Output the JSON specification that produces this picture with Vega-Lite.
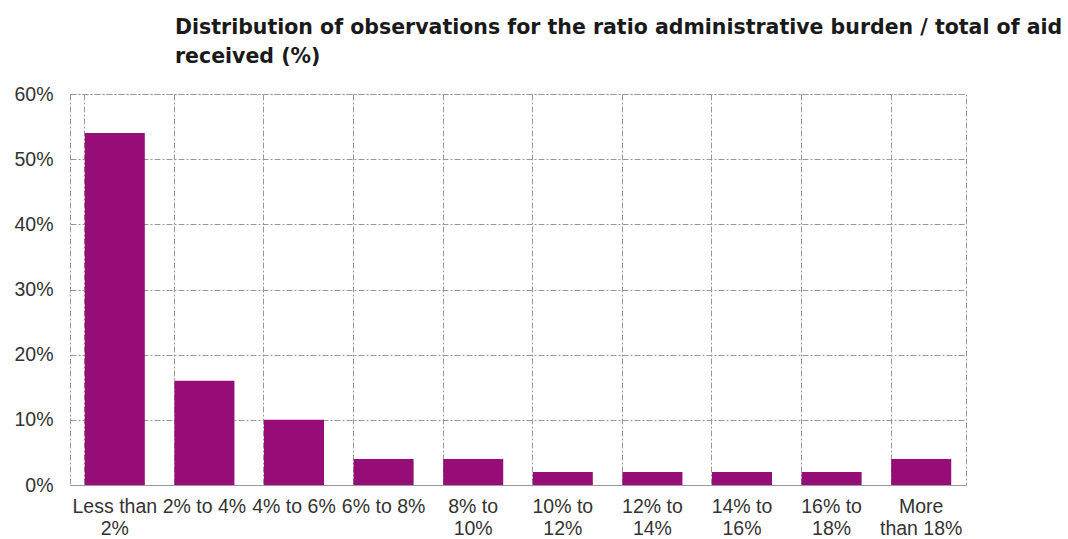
{
  "$schema": "https://vega.github.io/schema/vega-lite/v6.json",
  "width": 896,
  "height": 391,
  "autosize": {"type": "none"},
  "padding": {"left": 70, "top": 94, "right": 102, "bottom": 54},
  "background": "white",
  "title": {
    "text": ["Distribution of observations for the ratio administrative burden / total of aid", "received (%)"],
    "anchor": "start",
    "frame": "group",
    "dx": 105,
    "font": "DejaVu Sans",
    "fontWeight": "bold",
    "fontSize": 20.5,
    "lineHeight": 29,
    "color": "#1a1a1a",
    "offset": 17
  },
  "data": {
    "values": [
      {"range": "Less than 2%", "share": 0.54},
      {"range": "2% to 4%", "share": 0.16},
      {"range": "4% to 6%", "share": 0.10},
      {"range": "6% to 8%", "share": 0.04},
      {"range": "8% to 10%", "share": 0.04},
      {"range": "10% to 12%", "share": 0.02},
      {"range": "12% to 14%", "share": 0.02},
      {"range": "14% to 16%", "share": 0.02},
      {"range": "16% to 18%", "share": 0.02},
      {"range": "More than 18%", "share": 0.04}
    ]
  },
  "mark": {"type": "bar", "color": "#970D77"},
  "encoding": {
    "x": {
      "field": "range",
      "type": "nominal",
      "sort": null,
      "scale": {"paddingInner": 0.33, "paddingOuter": 0.165},
      "axis": {
        "title": null,
        "labelAngle": 0,
        "labelFont": "Liberation Sans",
        "labelFontSize": 19.5,
        "labelColor": "#333",
        "labelPadding": 12,
        "labelLineHeight": 22,
        "labelLimit": 200,
        "labelOverlap": false,
        "ticks": false,
        "domain": true,
        "domainColor": "#999",
        "grid": true,
        "bandPosition": 0,
        "gridColor": "#999",
        "gridDash": [6, 2, 2, 2],
        "gridWidth": 1,
        "labelExpr": "datum.value == 'Less than 2%' ? ['Less than', '2%'] : datum.value == 'More than 18%' ? ['More', 'than 18%'] : (datum.value == '2% to 4%' || datum.value == '4% to 6%' || datum.value == '6% to 8%') ? datum.value : [replace(datum.value, / [0-9]+%$/, ''), replace(datum.value, /^.* /, '')]"
      }
    },
    "y": {
      "field": "share",
      "type": "quantitative",
      "scale": {"domain": [0, 0.6], "nice": false},
      "axis": {
        "title": null,
        "format": ".0%",
        "values": [0, 0.1, 0.2, 0.3, 0.4, 0.5, 0.6],
        "labelFont": "Liberation Sans",
        "labelFontSize": 19.5,
        "labelColor": "#333",
        "labelPadding": 17,
        "ticks": false,
        "domain": false,
        "gridColor": "#999",
        "gridDash": [6, 2, 2, 2],
        "gridWidth": 1
      }
    }
  },
  "config": {
    "view": {"stroke": "#999", "strokeDash": [6, 2, 2, 2], "strokeWidth": 1}
  }
}
